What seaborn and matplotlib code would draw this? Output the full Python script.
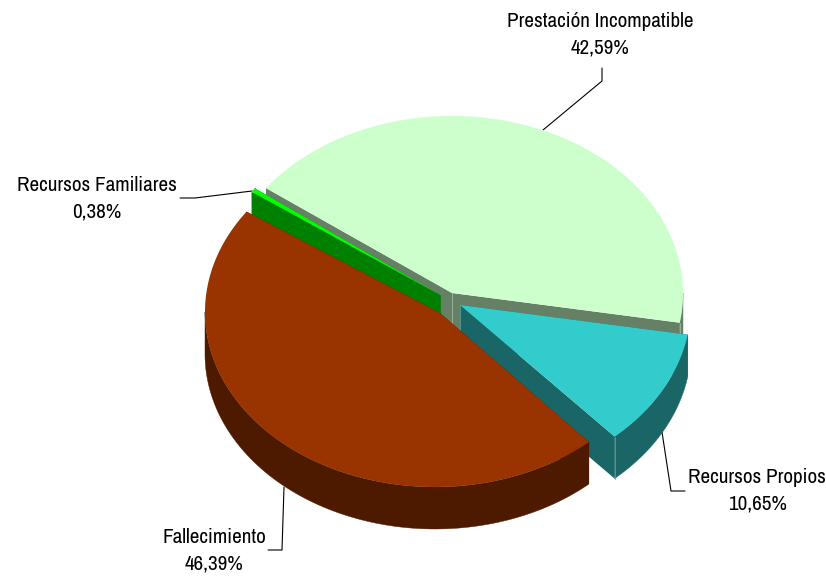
import numpy as np
import pandas as pd
import seaborn as sns
import matplotlib.pyplot as plt
from matplotlib.patches import Polygon

# Values
labels = ["Fallecimiento", "Recursos Familiares", "Prestación Incompatible", "Recursos Propios"]
values = [46.39, 0.38, 42.59, 10.65]

# Styles
top_colors = ["#993300", "#00FF00", "#CCFFCC", "#33CCCC"]
wall_colors = ["#4D1A00", "#008000", "#668066", "#1A6666"]
edge_colors = ["#4D1A00", "#008000", "#A0B8A0", "#5F9C9C"]

# Geometry of each exploded slice (pixels)
centers = [(435, 312), (440, 295), (452, 293), (460, 305)]
apexes = [(440, 313), (440, 295), (452, 293), (460, 305)]
radii = [(230, 175), (230, 180), (231, 177), (231, 177)]
depth = 42
start_angle = 48
draw_order = [2, 1, 3, 0]

# Label positions and leader lines
label_pos = [(214, 551), (97, 199), (600, 35), (757, 491)]
leaders = [
    [(284, 487), (282, 550), (268, 550)],
    [(252, 191), (195, 198), (180, 198)],
    [(543, 130), (602, 81), (602, 68)],
    [(662, 432), (671, 491), (685, 491)],
]

df = pd.DataFrame({"label": labels, "value": values})
df["sweep"] = df["value"] / df["value"].sum() * 360
df["t0"] = start_angle + df["sweep"].cumsum().shift(fill_value=0)
df["t1"] = df["t0"] + df["sweep"]

sns.set_theme(style="white")
plt.rcParams["font.family"] = ["Archivo Narrow", "Liberation Sans"]

fig, ax = plt.subplots(figsize=(8.26, 5.76), dpi=100)
ax.set_position([0, 0, 1, 1])
ax.set_xlim(0, 826)
ax.set_ylim(576, 0)
ax.axis("off")


def arc(i, t0, t1):
    cx, cy = centers[i]
    a, b = radii[i]
    t = np.radians(np.linspace(t0, t1, 200))
    return np.column_stack([cx + a * np.cos(t), cy + b * np.sin(t)])


def extrude(pts):
    low = pts + [0, depth]
    return np.vstack([pts, low[::-1]])


z = 2
for i in draw_order:
    t0, t1 = df.loc[i, "t0"], df.loc[i, "t1"]
    apex = np.array(apexes[i], dtype=float)
    rim = arc(i, t0, t1)

    # flat cut faces on both sides of the slice
    for end in (rim[0], rim[-1]):
        ax.add_patch(Polygon(extrude(np.array([apex, end])), closed=True,
                             fc=wall_colors[i], ec="none", zorder=z))

    # outer wall, only the front half of each turn shows
    for k in (0, 1):
        lo, hi = max(t0, k * 360), min(t1, k * 360 + 180)
        if hi > lo:
            ax.add_patch(Polygon(extrude(arc(i, lo, hi)), closed=True,
                                 fc=wall_colors[i], ec=wall_colors[i], lw=0.3, zorder=z))

    # vertical edges at the inner corner and where the cut meets the rim
    ax.plot([apex[0], apex[0]], [apex[1], apex[1] + depth],
            color=edge_colors[i], lw=0.6, zorder=z)
    ax.plot([rim[-1][0], rim[-1][0]], [rim[-1][1], rim[-1][1] + depth],
            color=edge_colors[i], lw=0.6, zorder=z)

    ax.add_patch(Polygon(np.vstack([apex, rim]), closed=True,
                         fc=top_colors[i], ec="none", zorder=z + 0.5))
    z += 1

for i, name in enumerate(labels):
    x, y = label_pos[i]
    pct = f"{values[i]:.2f}".replace(".", ",") + "%"
    ax.text(x, y, name + "\n" + pct, ha="center", va="center", fontsize=15.2,
            color="black", linespacing=1.5, zorder=20)
    pts = np.array(leaders[i])
    ax.plot(pts[:, 0], pts[:, 1], color="black", lw=0.8, zorder=1)

fig.savefig("out.png", dpi=100, facecolor="white")
plt.close()
